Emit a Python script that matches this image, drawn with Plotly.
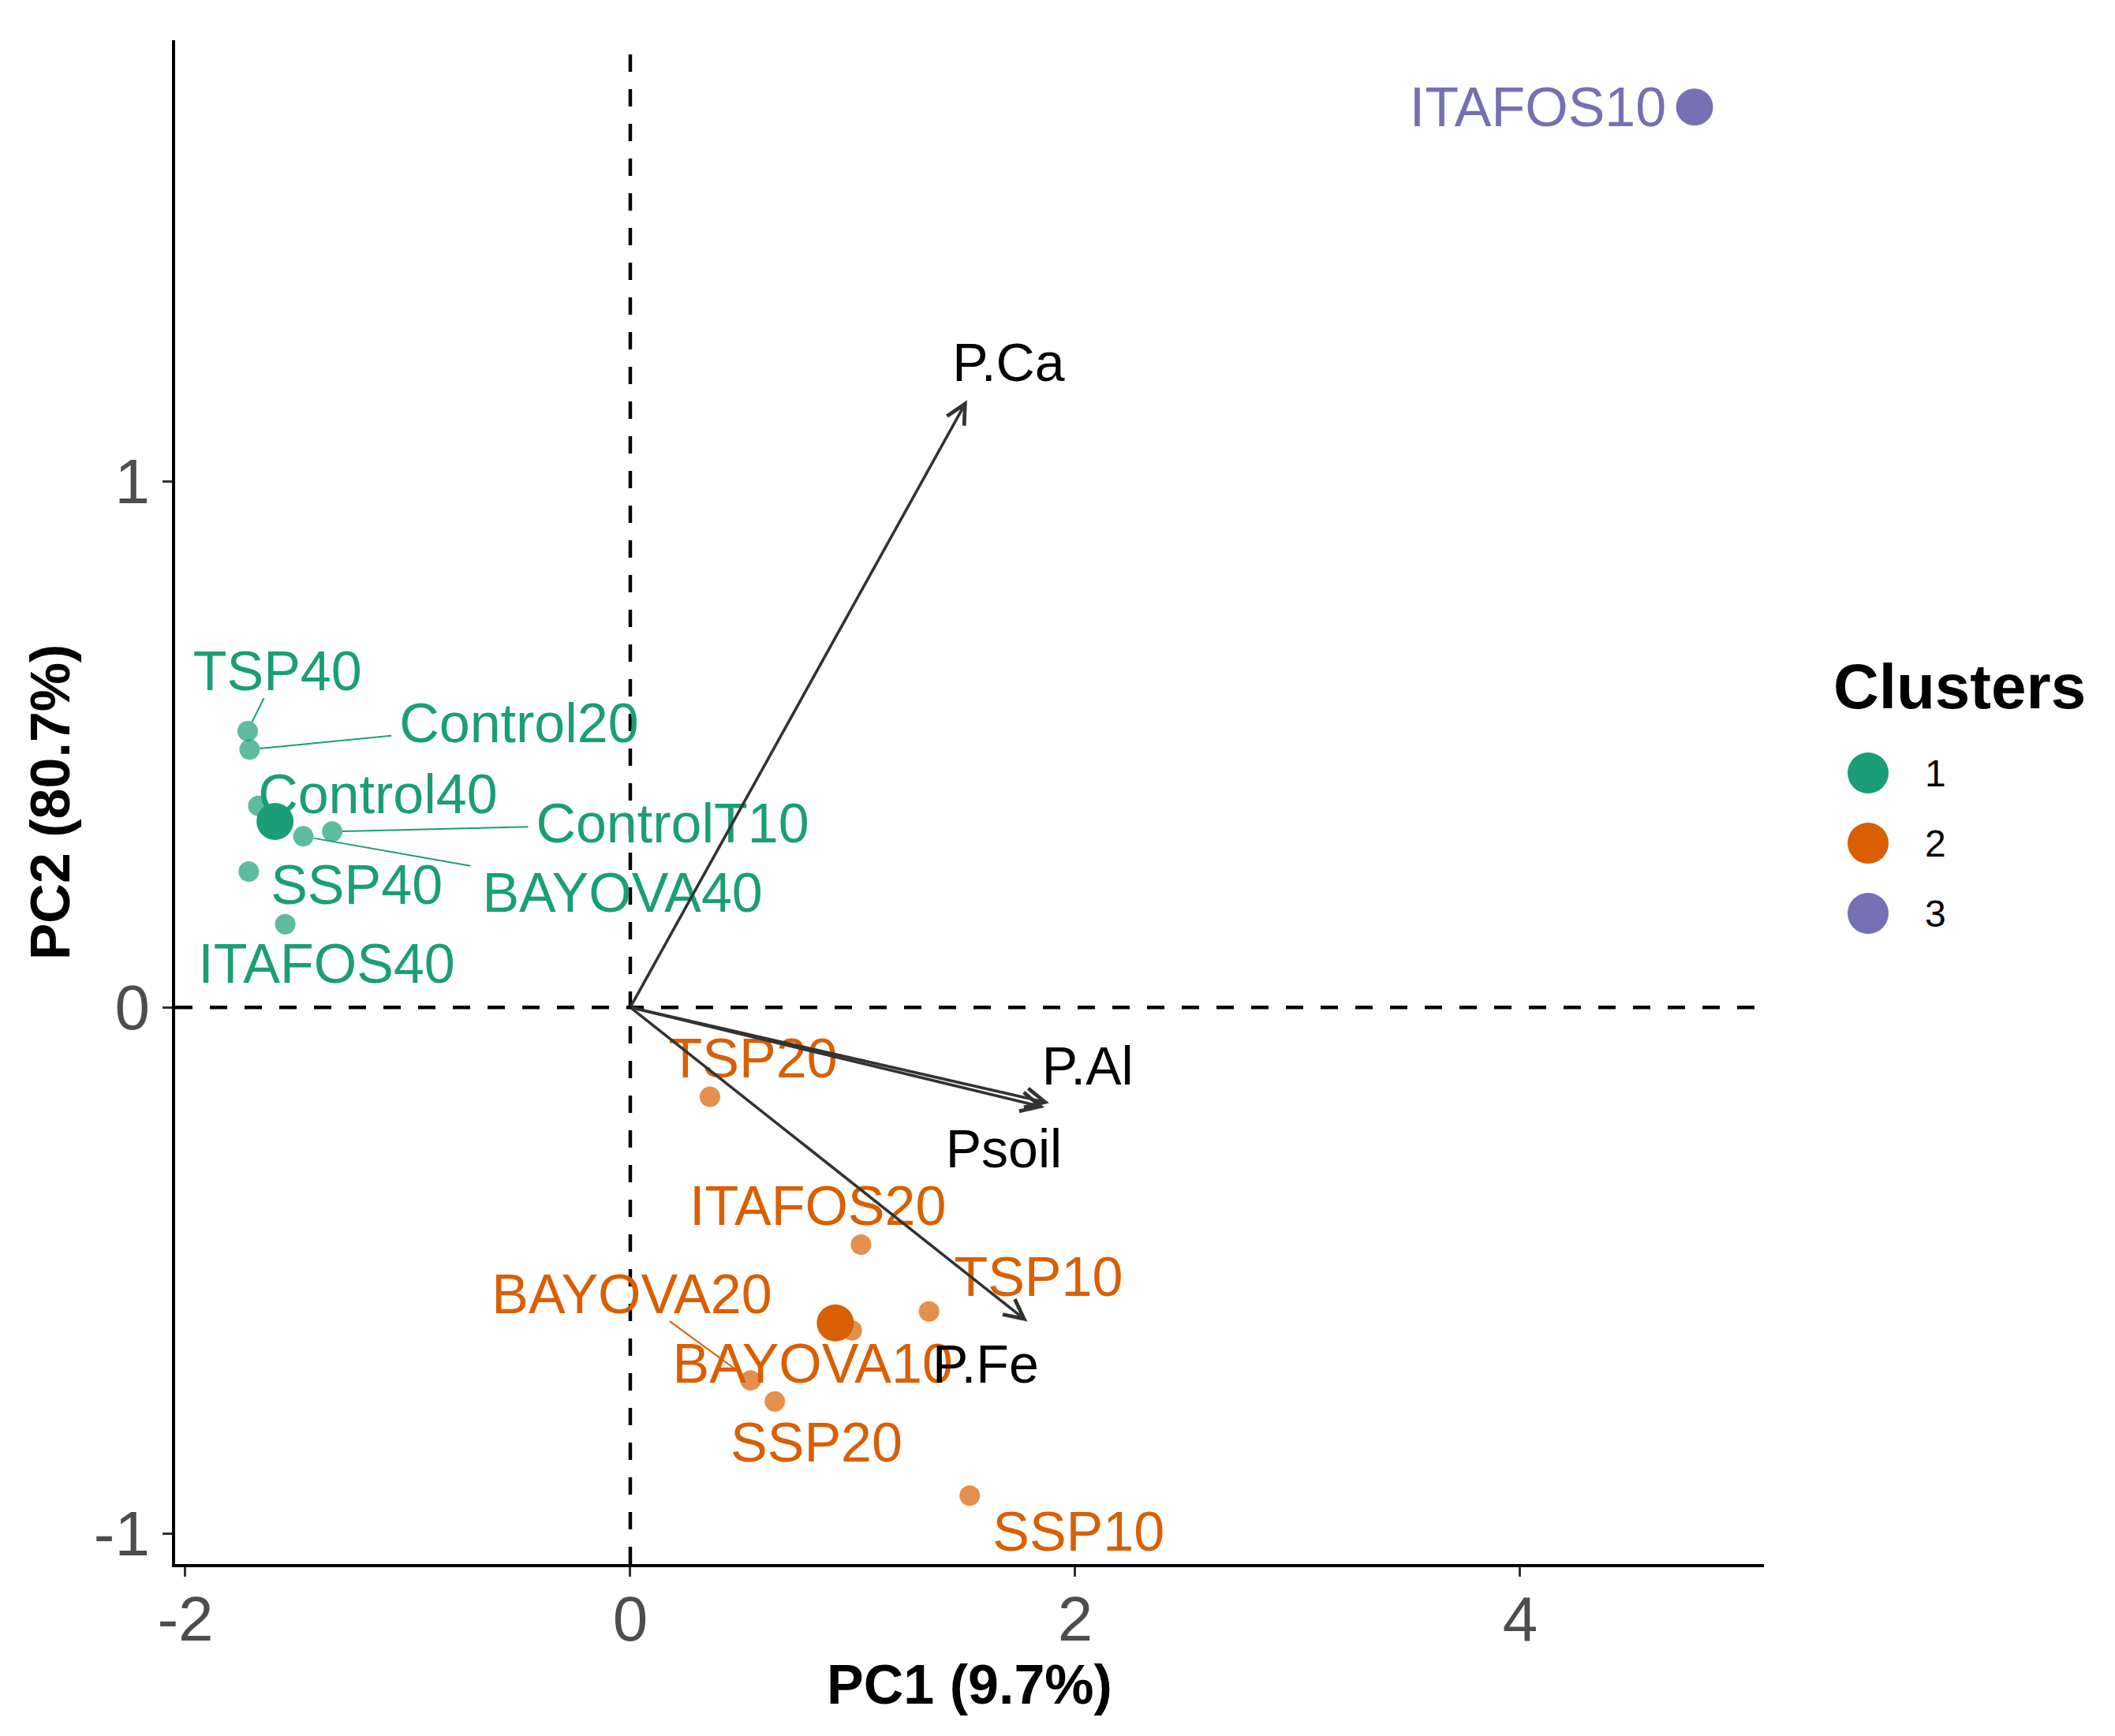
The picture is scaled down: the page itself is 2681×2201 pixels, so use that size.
import plotly.graph_objects as go
import math

# ---------------- data ----------------
obs_names = ["TSP40", "Control20", "Control40", "BAYOVA40", "ControlT10", "SSP40", "ITAFOS40",
             "TSP20", "ITAFOS20", "TSP10", "BAYOVA10", "BAYOVA20", "SSP20", "SSP10",
             "ITAFOS10"]
obs_pc1 = [-1.720, -1.711, -1.672, -1.470, -1.340, -1.715, -1.551,
           0.358, 1.037, 1.343, 0.996, 0.541, 0.650, 1.526,
           4.784]
obs_pc2 = [0.525, 0.490, 0.383, 0.325, 0.334, 0.258, 0.158,
           -0.170, -0.451, -0.578, -0.614, -0.709, -0.749, -0.928,
           1.711]
obs_cluster = [1, 1, 1, 1, 1, 1, 1,
               2, 2, 2, 2, 2, 2, 2,
               3]

# repelled label positions (as placed in the original)
obs_label_x = [-1.586, -0.50, -1.135, -0.035, 0.19, -1.23, -1.365,
               0.552, 0.843, 1.835, 0.82, 0.007, 0.837, 2.015,
               4.08]
obs_label_y = [0.64, 0.54, 0.406, 0.218, 0.35, 0.233, 0.084,
               -0.096, -0.377, -0.511, -0.677, -0.544, -0.827, -0.996,
               1.712]

var_names = ["P.Ca", "P.Al", "Psoil", "P.Fe"]
var_pc1 = [1.514, 1.883, 1.862, 1.785]
var_pc2 = [1.154, -0.182, -0.190, -0.597]
var_label_x = [1.70, 2.056, 1.679, 1.597]
var_label_y = [1.226, -0.110, -0.268, -0.677]

cluster_ids = [1, 2, 3]
cluster_labels = ["1", "2", "3"]

x_tick_vals = [-2, 0, 2, 4]
x_tick_text = ["-2", "0", "2", "4"]
y_tick_vals = [-1, 0, 1]
y_tick_text = ["-1", "0", "1"]
x_title = "PC1 (9.7%)"
y_title = "PC2 (80.7%)"
legend_title = "Clusters"

# ---------------- style / layout ----------------
cluster_colors = {1: "#1B9E77", 2: "#D95F02", 3: "#7570B3"}
FONT = "Liberation Sans, Arial, Helvetica, sans-serif"
W, H = 2681, 2201
ML, MR, MT, MB = 222, 445, 51, 218
XR = [-2.046, 5.096]
YR = [-1.058, 1.838]
LABEL_FS = 70
VAR_FS = 68
POINT_SIZE = 26
CENTROID_SIZE = 47
TEXT_DROP_PX = 7  # plotly centres text slightly higher than ggplot

plot_w = W - ML - MR
plot_h = H - MT - MB
ppx = plot_w / (XR[1] - XR[0])
ppy = plot_h / (YR[1] - YR[0])
drop = TEXT_DROP_PX / ppy

char_w = {'A': 0.667, 'B': 0.667, 'C': 0.722, 'F': 0.611, 'I': 0.278, 'O': 0.778, 'P': 0.667,
          'S': 0.667, 'T': 0.611, 'V': 0.667, 'Y': 0.667, '0': 0.556, '1': 0.556, '2': 0.556,
          '4': 0.556, 'l': 0.222, 'n': 0.556, 'o': 0.556, 'r': 0.333, 't': 0.278}


def text_width(s, fs):
    return sum(char_w.get(c, 0.556) for c in s) * fs


fig = go.Figure()

# segments from labels to points (computed like ggrepel: from label box edge to point)
for cid in cluster_ids:
    sx, sy = [], []
    for i, name in enumerate(obs_names):
        if obs_cluster[i] != cid:
            continue
        lx, ly = obs_label_x[i] * ppx, obs_label_y[i] * ppy
        px, py = obs_pc1[i] * ppx, obs_pc2[i] * ppy
        dx, dy = px - lx, py - ly
        dist = math.hypot(dx, dy)
        hw = text_width(name, LABEL_FS) / 2 + 10
        hh = LABEL_FS * 0.716 / 2 + 10
        tx = hw / abs(dx) if dx != 0 else 1e9
        ty = hh / abs(dy) if dy != 0 else 1e9
        t = min(tx, ty)
        if t >= 1:
            continue
        r = POINT_SIZE / 2
        remaining = dist * (1 - t) - r
        if remaining < 20:
            continue
        x0 = (lx + t * dx) / ppx
        y0 = (ly + t * dy) / ppy
        x1 = (px - r * dx / dist) / ppx
        y1 = (py - r * dy / dist) / ppy
        sx += [x0, x1, None]
        sy += [y0, y1, None]
    if sx:
        fig.add_trace(go.Scatter(x=sx, y=sy, mode="lines",
                                 line=dict(color=cluster_colors[cid], width=2),
                                 hoverinfo="skip", showlegend=False))

# observation points
for cid in cluster_ids:
    xs = [obs_pc1[i] for i in range(len(obs_names)) if obs_cluster[i] == cid]
    ys = [obs_pc2[i] for i in range(len(obs_names)) if obs_cluster[i] == cid]
    fig.add_trace(go.Scatter(x=xs, y=ys, mode="markers",
                             marker=dict(size=POINT_SIZE, color=cluster_colors[cid], opacity=0.7,
                                         line=dict(width=0)),
                             showlegend=False, hoverinfo="skip"))
    # cluster centroid (mean of members)
    fig.add_trace(go.Scatter(x=[sum(xs) / len(xs)], y=[sum(ys) / len(ys)], mode="markers",
                             marker=dict(size=CENTROID_SIZE, color=cluster_colors[cid],
                                         line=dict(width=0)),
                             showlegend=False, hoverinfo="skip"))

# observation labels
for cid in cluster_ids:
    idx = [i for i in range(len(obs_names)) if obs_cluster[i] == cid]
    fig.add_trace(go.Scatter(x=[obs_label_x[i] for i in idx],
                             y=[obs_label_y[i] - drop for i in idx],
                             mode="text", text=[obs_names[i] for i in idx],
                             textposition="middle center",
                             textfont=dict(family=FONT, size=LABEL_FS, color=cluster_colors[cid]),
                             showlegend=False, hoverinfo="skip"))

# variable labels
fig.add_trace(go.Scatter(x=var_label_x, y=[v - drop for v in var_label_y], mode="text",
                         text=var_names, textposition="middle center",
                         textfont=dict(family=FONT, size=VAR_FS, color="black"),
                         showlegend=False, hoverinfo="skip"))

# variable arrows
for i in range(len(var_names)):
    fig.add_annotation(x=var_pc1[i], y=var_pc2[i], ax=0, ay=0, xref="x", yref="y",
                       axref="x", ayref="y", text="", showarrow=True,
                       arrowhead=5, arrowsize=1.35, arrowwidth=3.6, arrowcolor="#333333",
                       standoff=0, startstandoff=0)

# reference dashed lines
fig.add_shape(type="line", xref="x", yref="paper", x0=0, x1=0, y0=0, y1=1,
              line=dict(color="black", width=4.5, dash="22px,22px"), layer="below")
fig.add_shape(type="line", xref="paper", yref="y", x0=0, x1=1, y0=0, y1=0,
              line=dict(color="black", width=4.5, dash="22px,22px"), layer="below")

# manual legend
def paper_x(px):
    return (px - ML) / plot_w


def paper_y(py):
    return (H - MB - py) / plot_h


fig.add_annotation(xref="paper", yref="paper", x=paper_x(2322), y=paper_y(871),
                   xanchor="left", yanchor="middle", showarrow=False, text=legend_title,
                   font=dict(family=FONT, size=80, color="black", weight="bold"))
for k, cid in enumerate(cluster_ids):
    cy = 980 + k * 89
    fig.add_shape(type="circle", xref="paper", yref="paper",
                  xsizemode="pixel", ysizemode="pixel",
                  xanchor=paper_x(2368), yanchor=paper_y(cy),
                  x0=-26, x1=26, y0=-26, y1=26,
                  fillcolor=cluster_colors[cid], line=dict(width=0))
    fig.add_annotation(xref="paper", yref="paper", x=paper_x(2438), y=paper_y(cy),
                       xanchor="left", yanchor="middle", showarrow=False,
                       text=cluster_labels[k],
                       font=dict(family=FONT, size=48, color="black"))

fig.update_layout(
    width=W, height=H,
    margin=dict(l=ML, r=MR, t=MT, b=MB, autoexpand=False),
    paper_bgcolor="white", plot_bgcolor="white",
    showlegend=False,
    font=dict(family=FONT),
)
fig.update_xaxes(range=XR, showgrid=False, zeroline=False,
                 showline=True, linecolor="black", linewidth=4,
                 ticks="outside", ticklen=12, tickwidth=3, tickcolor="#333333",
                 tickvals=x_tick_vals, ticktext=x_tick_text, ticklabelstandoff=-15,
                 tickfont=dict(family=FONT, size=80, color="#4D4D4D"),
                 title=dict(text=x_title, standoff=15,
                            font=dict(family=FONT, size=70, color="black", weight="bold")))
fig.update_yaxes(range=YR, showgrid=False, zeroline=False,
                 showline=True, linecolor="black", linewidth=4,
                 ticks="outside", ticklen=12, tickwidth=3, tickcolor="#333333",
                 tickvals=y_tick_vals, ticktext=y_tick_text,
                 tickfont=dict(family=FONT, size=80, color="#4D4D4D"),
                 title=dict(text=y_title, standoff=8,
                            font=dict(family=FONT, size=70, color="black", weight="bold")))

fig.write_html("out.html")
